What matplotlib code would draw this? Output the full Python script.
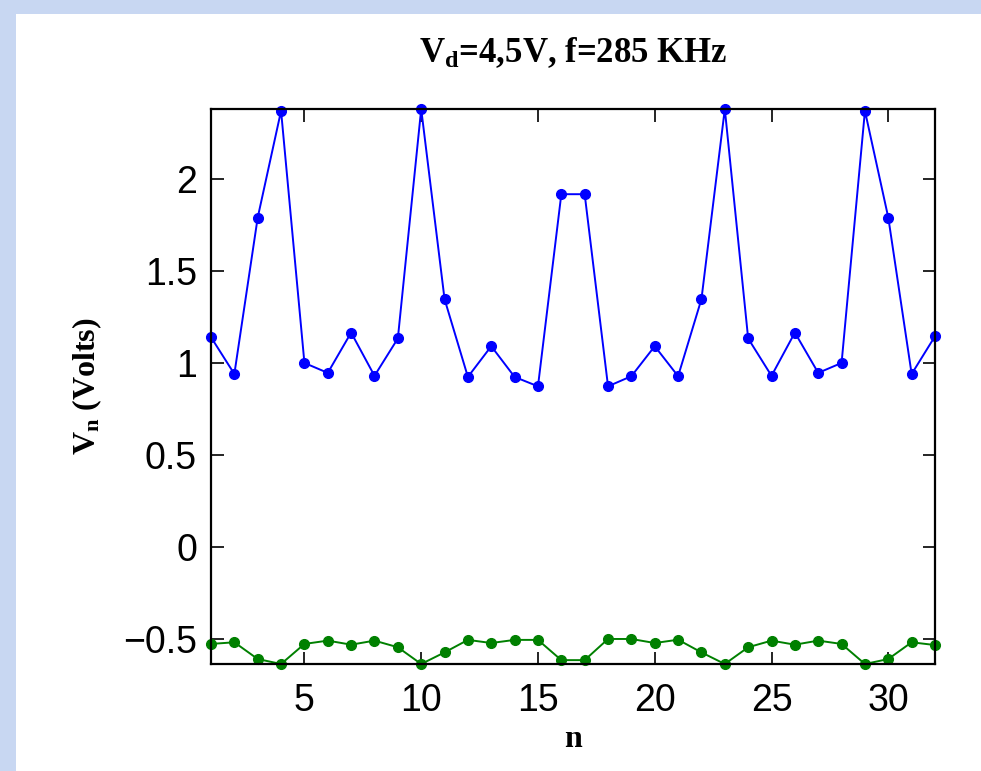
import matplotlib
matplotlib.use('Agg')
import matplotlib.pyplot as plt
import matplotlib.patches as mpatches
import numpy as np

# values, n = 1..32
n = list(range(1, 33))
v_upper = [1.14, 0.94, 1.79, 2.37, 1.00, 0.946, 1.165, 0.93, 1.133, 2.38, 1.347, 0.924, 1.091, 0.924, 0.873, 1.917,
           1.917, 0.873, 0.928, 1.091, 0.928, 1.347, 2.38, 1.133, 0.93, 1.165, 0.946, 1.00, 2.37, 1.79, 0.94, 1.145]
v_lower = [-0.527, -0.518, -0.609, -0.636, -0.527, -0.509, -0.531, -0.509, -0.545, -0.636, -0.573, -0.505, -0.522,
           -0.505, -0.505, -0.615, -0.615, -0.500, -0.500, -0.522, -0.504, -0.573, -0.636, -0.545, -0.509, -0.531,
           -0.509, -0.527, -0.636, -0.609, -0.518, -0.533]
x_ticks = [5, 10, 15, 20, 25, 30]
y_ticks = [-0.5, 0, 0.5, 1, 1.5, 2]

plt.rcParams['mathtext.fontset'] = 'custom'
plt.rcParams['mathtext.rm'] = 'Liberation Serif:bold'
plt.rcParams['mathtext.it'] = 'Liberation Serif:bold'
plt.rcParams['mathtext.bf'] = 'Liberation Serif:bold'

W, H = 981, 771
fig = plt.figure(figsize=(W / 100, H / 100), dpi=100)
fig.patch.set_facecolor('#c8d7f2')
# white slide area
fig.add_artist(mpatches.Rectangle((16 / W, 0), 1 - 16 / W, 1 - 14 / H, transform=fig.transFigure,
                                  facecolor='white', edgecolor='none', zorder=-1))

ax = fig.add_axes([211 / W, 1 - 664 / H, 724 / W, 555 / H])
ax.plot(n, v_upper, '-o', color='#0000ff', lw=1.4, ms=7, clip_on=False)
ax.plot(n, v_lower, '-o', color='#008000', lw=1.4, ms=7, clip_on=False)

ax.set_xlim(1, 32)
ax.set_ylim(min(v_lower), max(v_upper))
ax.set_xticks(x_ticks)
ax.set_yticks(y_ticks)
ax.set_yticklabels(['\u22120.5', '0', '0.5', '1', '1.5', '2'])
ax.tick_params(direction='in', length=9, width=1.2, top=True, right=True, labelsize=27, pad=10)
ax.tick_params(axis='x', pad=14)
for lab in ax.get_xticklabels() + ax.get_yticklabels():
    lab.set_fontfamily('Liberation Sans')
for sp in ax.spines.values():
    sp.set_linewidth(1.6)

ax.set_title(r'$\mathrm{V_d}$=4,5V, f=285 KHz', fontfamily='Liberation Serif', fontweight='bold',
             fontsize=25, pad=34)
ax.set_xlabel('n', fontfamily='Liberation Serif', fontweight='bold', fontsize=23, labelpad=4)
ax.set_ylabel(r'$\mathrm{V_n}$ (Volts)', fontfamily='Liberation Serif', fontweight='bold', fontsize=23,
              labelpad=14)

fig.savefig('out.png', dpi=100, facecolor=fig.get_facecolor())
